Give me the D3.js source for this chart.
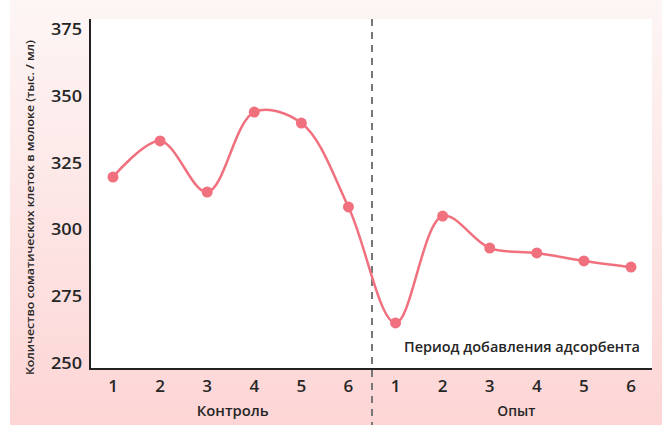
<!DOCTYPE html>
<html>
<head>
<meta charset="utf-8">
<script src="https://cdn.jsdelivr.net/npm/d3@7"></script>
<style>
  body { margin: 0; background: #fff; }
  svg { display: block; }
  text { font-family: "Open Sans", "Liberation Sans", sans-serif; fill: #262626; font-weight: 600; }
</style>
</head>
<body>
<div id="chart"></div>
<script>
// Data
const periods = ['1', '2', '3', '4', '5', '6', '1', '2', '3', '4', '5', '6'];
const cellCounts = [319.6, 333.1, 314.0, 343.9, 339.8, 308.4, 265.0, 305.0, 293.0, 291.2, 288.2, 285.9];
const yTicks = [250, 275, 300, 325, 350, 375];
const groupLabels = ['Контроль', 'Опыт'];
const yTitle = 'Количество соматических клеток в молоке (тыс. / мл)';
const periodNote = 'Период добавления адсорбента';

const width = 662, height = 425;
const plot = { left: 90, right: 652, top: 19, bottom: 369 };

const svg = d3.select('#chart')
    .append('svg')
    .attr('width', width)
    .attr('height', height);

// background gradient
const defs = svg.append('defs');
const grad = defs.append('linearGradient')
    .attr('id', 'bg')
    .attr('x1', 0).attr('y1', 0).attr('x2', 0).attr('y2', 1);
grad.append('stop').attr('offset', '0%').attr('stop-color', '#fdf6f5');
grad.append('stop').attr('offset', '100%').attr('stop-color', '#fdd5d5');

svg.append('rect')
    .attr('x', 10).attr('y', 0)
    .attr('width', width - 10).attr('height', height)
    .attr('fill', 'url(#bg)');

svg.append('rect')
    .attr('x', plot.left).attr('y', plot.top)
    .attr('width', plot.right - plot.left).attr('height', plot.bottom - plot.top)
    .attr('fill', '#fff');

// scales
const x = d3.scalePoint()
    .domain(d3.range(periods.length))
    .range([113, 631]);

const y = d3.scaleLinear()
    .domain([250, 375])
    .range([363, 29]);

// y tick labels
svg.append('g')
    .selectAll('text')
    .data(yTicks)
    .enter()
    .append('text')
    .attr('x', 82)
    .attr('y', d => y(d))
    .attr('dy', '0.35em')
    .attr('text-anchor', 'end')
    .attr('textLength', 31)
    .attr('lengthAdjust', 'spacingAndGlyphs')
    .style('font-size', '17px')
    .text(d => d);

// y title
svg.append('text')
    .attr('transform', `translate(34,${(40 + 375) / 2}) rotate(-90)`)
    .attr('text-anchor', 'middle')
    .attr('textLength', 335)
    .attr('lengthAdjust', 'spacingAndGlyphs')
    .style('font-size', '11.5px')
    .text(yTitle);

// x tick labels
svg.append('g')
    .selectAll('text')
    .data(periods)
    .enter()
    .append('text')
    .attr('x', (d, i) => x(i))
    .attr('y', 386)
    .attr('dy', '0.35em')
    .attr('text-anchor', 'middle')
    .style('font-size', '17px')
    .text(d => d);

// group labels
const mid = (x(5) + x(6)) / 2;
svg.append('text')
    .attr('x', (x(0) + x(5)) / 2 + 2)
    .attr('y', 411)
    .attr('dy', '0.35em')
    .attr('text-anchor', 'middle')
    .attr('textLength', 72)
    .attr('lengthAdjust', 'spacingAndGlyphs')
    .style('font-size', '15px')
    .text(groupLabels[0]);

svg.append('text')
    .attr('x', (x(6) + x(11)) / 2 + 3)
    .attr('y', 411)
    .attr('dy', '0.35em')
    .attr('text-anchor', 'middle')
    .attr('textLength', 38)
    .attr('lengthAdjust', 'spacingAndGlyphs')
    .style('font-size', '15px')
    .text(groupLabels[1]);

// note
svg.append('text')
    .attr('x', 640)
    .attr('y', 347)
    .attr('dy', '0.35em')
    .attr('text-anchor', 'end')
    .attr('textLength', 236)
    .attr('lengthAdjust', 'spacingAndGlyphs')
    .style('font-size', '15px')
    .text(periodNote);

// axes lines
svg.append('line')
    .attr('x1', plot.left).attr('x2', plot.left)
    .attr('y1', plot.top).attr('y2', plot.bottom + 1)
    .attr('stroke', '#222').attr('stroke-width', 2);
svg.append('line')
    .attr('x1', plot.left - 1).attr('x2', plot.right)
    .attr('y1', plot.bottom).attr('y2', plot.bottom)
    .attr('stroke', '#222').attr('stroke-width', 2);

// dashed divider
svg.append('line')
    .attr('x1', mid).attr('x2', mid)
    .attr('y1', plot.top).attr('y2', height)
    .attr('stroke', '#777')
    .attr('stroke-width', 2)
    .attr('stroke-dasharray', '7,6');

// line + points
const line = d3.line()
    .x((d, i) => x(i))
    .y(d => y(d))
    .curve(d3.curveCatmullRom.alpha(0.5));

svg.append('path')
    .datum(cellCounts)
    .attr('d', line)
    .attr('fill', 'none')
    .attr('stroke', '#f0707e')
    .attr('stroke-width', 2.5);

svg.append('g')
    .selectAll('circle')
    .data(cellCounts)
    .enter()
    .append('circle')
    .attr('cx', (d, i) => x(i))
    .attr('cy', d => y(d))
    .attr('r', 5.5)
    .attr('fill', '#f0707e');
</script>
</body>
</html>
